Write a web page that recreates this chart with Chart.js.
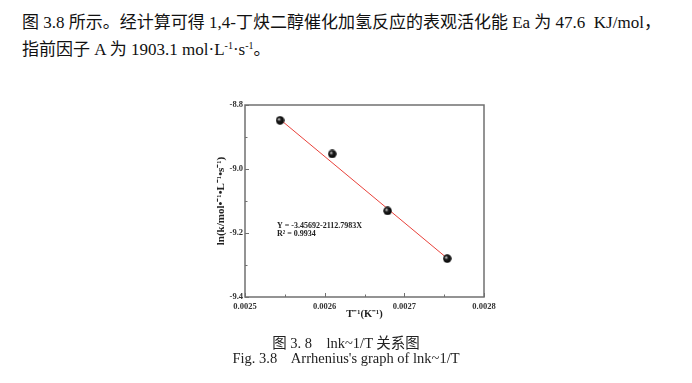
<!DOCTYPE html>
<html>
<head>
<meta charset="utf-8">
<script src="https://cdn.jsdelivr.net/npm/chart.js@4.4.1/dist/chart.umd.min.js"></script>
<style>
  body { margin: 0; background: #fff; }
  #wrap { position: relative; width: 692px; height: 383px; overflow: hidden; }
  #c { position: absolute; left: 0; top: 0; }
  .txt { position: absolute; font-family: "Liberation Serif", "Noto Sans CJK SC", serif; color: #111; white-space: nowrap; }
  .cap { font-size: 14.5px; color: #222; left: 0; width: 692px; text-align: center; }
  sup { font-size: 10px; vertical-align: 6px; line-height: 0; }
</style>
</head>
<body>
<div id="wrap">
  <div class="txt" style="left:22px; top:8px; font-size:17px;">图 3.8 所示。经计算可得 1,4-丁炔二醇催化加氢反应的表观活化能 Ea 为 47.6&nbsp; KJ/mol，</div>
  <div class="txt" style="left:22px; top:35px; font-size:17px;">指前因子 A 为 1903.1 mol·L<sup>-1</sup>·s<sup>-1</sup>。</div>
  <canvas id="c" width="692" height="383"></canvas>
  <div class="txt cap" style="top:331px;">图 3. 8&nbsp;&nbsp;&nbsp; lnk~1/T 关系图</div>
  <div class="txt cap" style="top:350px;">Fig. 3.8&nbsp;&nbsp;&nbsp; Arrhenius's graph of lnk~1/T</div>
</div>
<script>
// measured points (1/T, ln k)
const invT = [0.002544, 0.0026095, 0.002679, 0.0027538];
const lnK = [-8.848, -8.953, -9.131, -9.280];
// linear fit line endpoints as drawn
const fitX = [0.002544, 0.0027538];
const fitY = [-8.845, -9.279];

const xTicks = [0.0025, 0.0026, 0.0027, 0.0028];
const xMinor = [0.00255, 0.00265, 0.00275];
const yTicks = [-8.8, -9.0, -9.2, -9.4];
const yMinor = [-8.9, -9.1, -9.3];

const fitText = ['Y = -3.45692-2112.7983X', 'R² = 0.9934'];

const axisFont = { family: 'Liberation Serif', size: 8.5, weight: 'bold' };

// shaded ball marker
const ball = document.createElement('canvas');
ball.width = 9; ball.height = 9;
const bctx = ball.getContext('2d');
const grad = bctx.createRadialGradient(3.2, 3.2, 0.3, 4.5, 4.5, 4.5);
grad.addColorStop(0, '#d0d0d0');
grad.addColorStop(0.35, '#202020');
grad.addColorStop(1, '#000');
bctx.fillStyle = grad;
bctx.beginPath();
bctx.arc(4.5, 4.5, 4.2, 0, Math.PI * 2);
bctx.fill();

const frame = {
  id: 'frame',
  afterDraw(chart) {
    const { ctx, chartArea: a, scales: { x, y } } = chart;
    ctx.save();
    ctx.strokeStyle = '#707070';
    ctx.lineWidth = 1.5;
    ctx.beginPath();
    ctx.moveTo(a.left, a.top);
    ctx.lineTo(a.right, a.top);
    ctx.lineTo(a.right, a.bottom);
    ctx.lineTo(a.left, a.bottom);
    ctx.closePath();
    ctx.stroke();
    ctx.lineWidth = 1;
    ctx.beginPath();
    xTicks.forEach(v => { const p = Math.round(x.getPixelForValue(v)) + 0.5; ctx.moveTo(p, a.bottom); ctx.lineTo(p, a.bottom - 4); });
    xMinor.forEach(v => { const p = Math.round(x.getPixelForValue(v)) + 0.5; ctx.moveTo(p, a.bottom); ctx.lineTo(p, a.bottom - 2.5); });
    yTicks.forEach(v => { const p = Math.round(y.getPixelForValue(v)) + 0.5; ctx.moveTo(a.left, p); ctx.lineTo(a.left + 4, p); });
    yMinor.forEach(v => { const p = Math.round(y.getPixelForValue(v)) + 0.5; ctx.moveTo(a.left, p); ctx.lineTo(a.left + 2.5, p); });
    ctx.stroke();
    ctx.fillStyle = '#222';
    ctx.font = 'bold 8px "Liberation Serif"';
    ctx.textBaseline = 'middle';
    ctx.fillText(fitText[0], a.left + 32, a.top + 121);
    ctx.fillText(fitText[1], a.left + 32, a.top + 128.5);
    ctx.restore();
  }
};

new Chart(document.getElementById('c'), {
  type: 'scatter',
  data: {
    datasets: [{
      type: 'line',
      data: fitX.map((v, i) => ({ x: v, y: fitY[i] })),
      borderColor: '#e8413a',
      borderWidth: 1,
      pointRadius: 0,
      order: 2
    }, {
      data: invT.map((v, i) => ({ x: v, y: lnK[i] })),
      pointStyle: ball,
      pointRadius: 4,
      order: 1
    }]
  },
  options: {
    responsive: false,
    animation: false,
    events: [],
    layout: { padding: { left: 215, right: 208, top: 105, bottom: 62 } },
    plugins: { legend: { display: false }, tooltip: { enabled: false } },
    scales: {
      x: {
        type: 'linear',
        min: 0.0025,
        max: 0.0028,
        afterBuildTicks: s => { s.ticks = xTicks.map(v => ({ value: v })); },
        afterFit: s => { s.height = 24; },
        grid: { display: false, drawTicks: false, tickLength: 0 },
        border: { display: false },
        ticks: { font: axisFont, color: '#333', padding: 5, callback: v => v.toFixed(4) },
        title: { display: true, text: 'T⁻¹(K⁻¹)', font: { family: 'Liberation Serif', size: 10.5, weight: 'bold' }, color: '#222', padding: 0 }
      },
      y: {
        type: 'linear',
        min: -9.4,
        max: -8.8,
        afterBuildTicks: s => { s.ticks = yTicks.map(v => ({ value: v })); },
        afterFit: s => { s.width = 30; },
        grid: { display: false, drawTicks: false, tickLength: 0 },
        border: { display: false },
        ticks: { font: axisFont, color: '#333', padding: 2, callback: v => v.toFixed(1) },
        title: { display: true, text: 'ln(k/mol•⁻¹•L⁻¹•s⁻¹)', font: { family: 'Liberation Serif', size: 11, weight: 'bold' }, color: '#222', padding: 0 }
      }
    }
  },
  plugins: [frame]
});
</script>
</body>
</html>
